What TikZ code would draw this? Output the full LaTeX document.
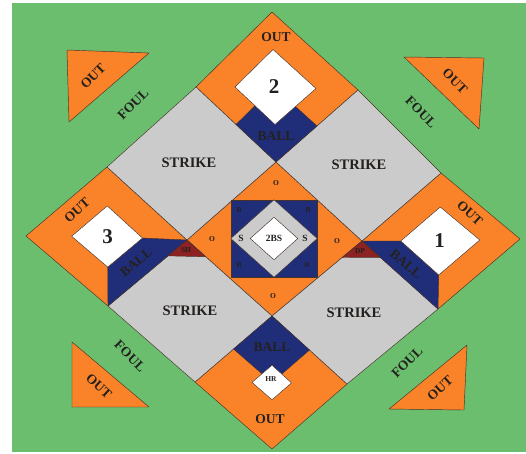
\documentclass[tikz,border=0pt]{standalone}
\usepackage{fontspec}
\setmainfont{Liberation Serif}
\usepackage{tikz}
\usepackage{xcolor}
\usetikzlibrary{calc}
\definecolor{FieldGreen}{RGB}{106,190,110}
\definecolor{BaseOrange}{RGB}{250,130,40}
\definecolor{StrikeGray}{RGB}{203,203,203}
\definecolor{BallBlue}{RGB}{32,46,122}
\definecolor{PlayRed}{RGB}{140,34,34}
\definecolor{Ink}{RGB}{35,32,30}
\definecolor{EdgeLine}{RGB}{70,50,40}

\begin{document}
\begin{tikzpicture}[x=1pt, y=-1pt,
  tile/.style={draw=EdgeLine, line width=0.45pt, line join=round},
  wordlbl/.style={font=\fontsize{13.5}{14}\selectfont\bfseries, text=Ink, inner sep=0pt},
  strikelbl/.style={font=\fontsize{14.5}{15}\selectfont\bfseries, text=Ink, inner sep=0pt},
  digitlbl/.style={font=\fontsize{21}{22}\selectfont\bfseries, text=Ink, inner sep=0pt},
  minorlbl/.style={font=\fontsize{7.5}{8}\selectfont\bfseries, text=Ink, inner sep=0pt},
  midlbl/.style={font=\fontsize{9.5}{10}\selectfont\bfseries, text=Ink, inner sep=0pt}]
\fill[white] (0,0) rectangle (526,453);
\fill[FieldGreen] (12,3) rectangle (526,452);
\useasboundingbox (0,0) rectangle (526,453);

\coordinate (g00) at (272,12);
\coordinate (g01) at (196,87);
\coordinate (g02) at (107,167);
\coordinate (g03) at (26,236);
\coordinate (g10) at (358,90);
\coordinate (g11) at (276,162);
\coordinate (g12) at (187,240);
\coordinate (g13) at (108,306);
\coordinate (g20) at (441,173);
\coordinate (g21) at (362,241);
\coordinate (g22) at (272,316);
\coordinate (g23) at (195,382);
\coordinate (g30) at (520,239);
\coordinate (g31) at (438,309);
\coordinate (g32) at (347,384);
\coordinate (g33) at (272,449);

\filldraw[tile, fill=BaseOrange] (g00) -- (g10) -- (g11) -- (g01) -- cycle;
\filldraw[tile, fill=BaseOrange] (g02) -- (g12) -- (g13) -- (g03) -- cycle;
\filldraw[tile, fill=BaseOrange] (g20) -- (g30) -- (g31) -- (g21) -- cycle;
\filldraw[tile, fill=BaseOrange] (g22) -- (g32) -- (g33) -- (g23) -- cycle;
\filldraw[tile, fill=BaseOrange] (g11) -- (g21) -- (g22) -- (g12) -- cycle;
\filldraw[tile, fill=StrikeGray] (g01) -- (g11) -- (g12) -- (g02) -- cycle;
\filldraw[tile, fill=StrikeGray] (g10) -- (g20) -- (g21) -- (g11) -- cycle;
\filldraw[tile, fill=StrikeGray] (g12) -- (g22) -- (g23) -- (g13) -- cycle;
\filldraw[tile, fill=StrikeGray] (g21) -- (g31) -- (g32) -- (g22) -- cycle;

\coordinate (second) at ($(g00)!0.5!(g11)$);
\coordinate (third) at ($(g02)!0.5!(g13)$);
\coordinate (first) at ($(g20)!0.5!(g31)$);
\coordinate (home) at ($(g22)!0.5!(g33)$);

\filldraw[tile, fill=BallBlue] (second) -- ($(g10)!0.5!(g11)$) -- (g11) -- ($(g01)!0.5!(g11)$) -- cycle;
\filldraw[tile, fill=white] ($(second)!0.5!(g00)$) -- ($(second)!0.5!(g10)$) -- ($(second)!0.5!(g11)$) -- ($(second)!0.5!(g01)$) -- cycle;

\filldraw[tile, fill=BallBlue] ($(third)!0.44!(g12)$) -- (g12) -- (g13) -- ($(third)!0.44!(g13)$) -- cycle;
\filldraw[tile, fill=white] ($(third)!0.44!(g02)$) -- ($(third)!0.44!(g12)$) -- ($(third)!0.44!(g13)$) -- ($(third)!0.44!(g03)$) -- cycle;

\filldraw[tile, fill=BallBlue] (g21) -- ($(first)!0.5!(g21)$) -- ($(first)!0.5!(g31)$) -- (g31) -- cycle;
\filldraw[tile, fill=white] ($(first)!0.5!(g20)$) -- ($(first)!0.5!(g30)$) -- ($(first)!0.5!(g31)$) -- ($(first)!0.5!(g21)$) -- cycle;

\filldraw[tile, fill=BallBlue] (g22) -- ($(g22)!0.5!(g32)$) -- (home) -- ($(g22)!0.5!(g23)$) -- cycle;
\filldraw[tile, fill=white] ($(home)!0.26!(g22)$) -- ($(home)!0.26!(g32)$) -- ($(home)!0.26!(g33)$) -- ($(home)!0.26!(g23)$) -- cycle;

\filldraw[tile, fill=PlayRed] (g12) -- ($(g12)!0.24!(g13)$) -- ($(g12)!0.22!(g22)$) -- cycle;
\filldraw[tile, fill=PlayRed] (g21) -- ($(g21)!0.22!(g22)$) -- ($(g21)!0.24!(g31)$) -- cycle;

\node[tile, fill=BallBlue, minimum width=86pt, minimum height=77pt, inner sep=0pt] (mound) at (274,238.5) {};
\filldraw[tile, fill=StrikeGray] (mound.north) -- (mound.east) -- (mound.south) -- (mound.west) -- cycle;
\filldraw[tile, fill=white] ($(mound.center)!0.55!(mound.north)$) -- ($(mound.center)!0.55!(mound.east)$) -- ($(mound.center)!0.55!(mound.south)$) -- ($(mound.center)!0.55!(mound.west)$) -- cycle;

\filldraw[tile, fill=BaseOrange] (67,50) -- (149,53) -- (69,122) -- cycle;
\filldraw[tile, fill=BaseOrange] (404,57) -- (484,58) -- (479,129) -- cycle;
\filldraw[tile, fill=BaseOrange] (72,342) -- (72,407) -- (149,407) -- cycle;
\filldraw[tile, fill=BaseOrange] (467,345) -- (464,410) -- (389,409) -- cycle;

\node[wordlbl] (out2) at (276,37) {OUT};
\node[digitlbl] (base2) at (second) {2};
\node[wordlbl] (ball2) at (276,136) {BALL};
\node[wordlbl, rotate=42] (out3) at (77,210) {OUT};
\node[digitlbl] (base3) at (third) {3};
\node[wordlbl, rotate=39] (ball3) at (136,262) {BALL};
\node[minorlbl] (sh) at (186,250) {SH};
\node[wordlbl, rotate=-42] (out1) at (470,213) {OUT};
\node[digitlbl] (base1) at (first) {1};
\node[wordlbl, rotate=-40] (ball1) at (406,264) {BALL};
\node[minorlbl] (dp) at (360,251) {DP};
\node[wordlbl] (ballh) at (272,347) {BALL};
\node[minorlbl] (hr) at (271,379) {HR};
\node[wordlbl] (outh) at (270,419) {OUT};

\node[minorlbl] (otop) at (276,183) {O};
\node[minorlbl] (oleft) at (212,239) {O};
\node[minorlbl] (oright) at (337,241) {O};
\node[minorlbl] (obottom) at (273,296) {O};
\node[minorlbl] (bnw) at (239,210) {B};
\node[minorlbl] (bne) at (308,210) {B};
\node[minorlbl] (bsw) at (239,265) {B};
\node[minorlbl] (bse) at (307,265) {B};
\node[midlbl] (sleft) at (241,238) {S};
\node[midlbl] (sright) at (305,238) {S};
\node[midlbl] (twobs) at (274,238) {2BS};

\node[strikelbl] (strikenw) at (189,163) {STRIKE};
\node[strikelbl] (strikene) at (359,165) {STRIKE};
\node[strikelbl] (strikesw) at (190,311) {STRIKE};
\node[strikelbl] (strikese) at (354,313) {STRIKE};

\node[wordlbl, rotate=45] (outnw) at (93,76) {OUT};
\node[wordlbl, rotate=-45] (outne) at (455,81) {OUT};
\node[wordlbl, rotate=-42] (outsw) at (99,386) {OUT};
\node[wordlbl, rotate=42] (outse) at (440,388) {OUT};
\node[wordlbl, rotate=45] (foulnw) at (133,104) {FOUL};
\node[wordlbl, rotate=-45] (foulne) at (421,112) {FOUL};
\node[wordlbl, rotate=-45] (foulsw) at (130,356) {FOUL};
\node[wordlbl, rotate=45] (foulse) at (407,362) {FOUL};
\end{tikzpicture}
\end{document}
